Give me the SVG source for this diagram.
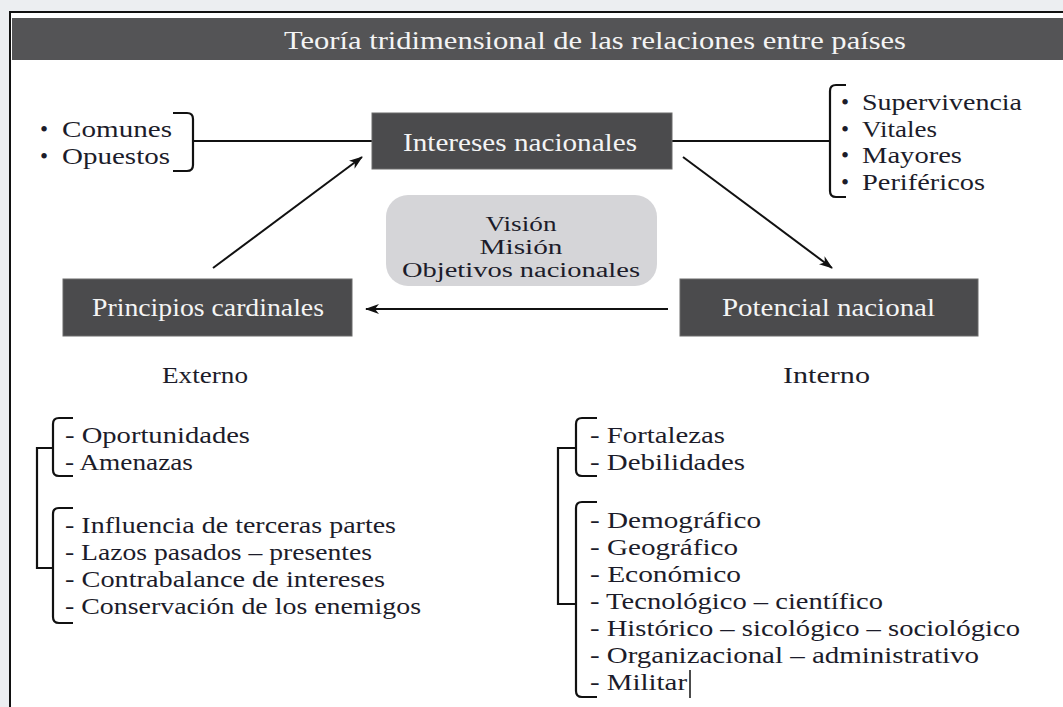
<svg xmlns="http://www.w3.org/2000/svg" width="1063" height="707" viewBox="0 0 1063 707">
<defs>
<style>
.t{font-family:"Liberation Serif","Times New Roman",serif;fill:#1c1c2a;font-size:23px}
.v{font-family:"Liberation Serif","Times New Roman",serif;fill:#1c1c2a;font-size:20px}
.w{font-family:"Liberation Serif","Times New Roman",serif;fill:#f4f4f4;font-size:25px}
.box{fill:#4b4b4d;stroke:#6a6a6a;stroke-width:1}
.ln{stroke:#111;stroke-width:2;fill:none}
.br{stroke:#111;stroke-width:2.2;fill:none}
</style>
<marker id="ah" viewBox="0 0 14 10" refX="13" refY="5" markerWidth="14" markerHeight="10" orient="auto" markerUnits="userSpaceOnUse">
<path d="M0,0 L14,5 L0,10 L4,5 z" fill="#111"/>
</marker>
</defs>
<rect x="0" y="0" width="1063" height="707" fill="#eceef1"/>
<rect x="10" y="12" width="1053" height="695" fill="#ffffff"/>
<path d="M10,707 V12 H1063" fill="none" stroke="#111" stroke-width="2"/>

<g id="title">
<rect x="12" y="18" width="1051" height="42" fill="#545456"/>
<text class="w" x="284" y="49" font-size="28" textLength="622" lengthAdjust="spacingAndGlyphs">Teoría tridimensional de las relaciones entre países</text>
</g>

<g id="connectors">
<path class="br" d="M173,113 H187 Q193,113 193,119 V165 Q193,171 187,171 H173"/>
<line class="ln" x1="193" y1="141" x2="372" y2="141"/>
<line class="ln" x1="672" y1="141" x2="830" y2="141"/>
<path class="br" d="M846,85 H836 Q830,85 830,91 V191 Q830,197 836,197 H846"/>
<line class="ln" x1="213" y1="268" x2="362" y2="157" marker-end="url(#ah)"/>
<line class="ln" x1="683" y1="157" x2="832" y2="268" marker-end="url(#ah)"/>
<line class="ln" x1="668" y1="309" x2="366" y2="309" marker-end="url(#ah)"/>
<path class="br" d="M73,418 H59 Q53,418 53,424 V470 Q53,476 59,476 H73"/>
<path class="br" d="M73,508 H59 Q53,508 53,514 V617 Q53,623 59,623 H73"/>
<path class="br" d="M53,448 H37 V568 H53"/>
<path class="br" d="M597,418 H582 Q576,418 576,424 V470 Q576,476 582,476 H597"/>
<path class="br" d="M597,502 H582 Q576,502 576,508 V691 Q576,697 582,697 H597"/>
<path class="br" d="M576,448 H558 V604 H576"/>
</g>

<g id="intereses">
<rect class="box" x="372" y="113" width="300" height="56"/>
<text class="w" x="403" y="151" textLength="234" lengthAdjust="spacingAndGlyphs">Intereses nacionales</text>
</g>

<g id="principios">
<rect class="box" x="63" y="279" width="289" height="57"/>
<text class="w" x="92" y="316" textLength="232" lengthAdjust="spacingAndGlyphs">Principios cardinales</text>
</g>

<g id="potencial">
<rect class="box" x="680" y="279" width="298" height="57"/>
<text class="w" x="722" y="316" textLength="213" lengthAdjust="spacingAndGlyphs">Potencial nacional</text>
</g>

<g id="vision">
<rect x="386" y="195" width="271" height="91" rx="22" fill="#d5d5d8"/>
<text class="v" x="521" y="231" text-anchor="middle" textLength="71" lengthAdjust="spacingAndGlyphs">Visión</text>
<text class="v" x="521" y="254" text-anchor="middle" textLength="83" lengthAdjust="spacingAndGlyphs">Misión</text>
<text class="v" x="521" y="277" text-anchor="middle" textLength="238" lengthAdjust="spacingAndGlyphs">Objetivos nacionales</text>
</g>

<g id="tipos-intereses-izq">
<text class="t" x="40" y="137">•</text>
<text class="t" x="62" y="137" textLength="110" lengthAdjust="spacingAndGlyphs">Comunes</text>
<text class="t" x="40" y="164">•</text>
<text class="t" x="62" y="164" textLength="108" lengthAdjust="spacingAndGlyphs">Opuestos</text>
</g>

<g id="tipos-intereses-der">
<text class="t" x="841" y="110">•</text>
<text class="t" x="862" y="110" textLength="160" lengthAdjust="spacingAndGlyphs">Supervivencia</text>
<text class="t" x="841" y="136.5">•</text>
<text class="t" x="862" y="136.5" textLength="75" lengthAdjust="spacingAndGlyphs">Vitales</text>
<text class="t" x="841" y="163">•</text>
<text class="t" x="862" y="163" textLength="100" lengthAdjust="spacingAndGlyphs">Mayores</text>
<text class="t" x="841" y="189.5">•</text>
<text class="t" x="862" y="189.5" textLength="123" lengthAdjust="spacingAndGlyphs">Periféricos</text>
</g>

<g id="externo">
<text class="t" x="162" y="383" textLength="86" lengthAdjust="spacingAndGlyphs">Externo</text>
<text class="t" x="65" y="443" textLength="185" lengthAdjust="spacingAndGlyphs">- Oportunidades</text>
<text class="t" x="65" y="470" textLength="128" lengthAdjust="spacingAndGlyphs">- Amenazas</text>
<text class="t" x="65" y="533" textLength="331" lengthAdjust="spacingAndGlyphs">- Influencia de terceras partes</text>
<text class="t" x="65" y="560" textLength="307" lengthAdjust="spacingAndGlyphs">- Lazos pasados – presentes</text>
<text class="t" x="65" y="587" textLength="320" lengthAdjust="spacingAndGlyphs">- Contrabalance de intereses</text>
<text class="t" x="65" y="614" textLength="356" lengthAdjust="spacingAndGlyphs">- Conservación de los enemigos</text>
</g>

<g id="interno">
<text class="t" x="783" y="383" textLength="87" lengthAdjust="spacingAndGlyphs">Interno</text>
<text class="t" x="590" y="443" textLength="135" lengthAdjust="spacingAndGlyphs">- Fortalezas</text>
<text class="t" x="590" y="470" textLength="155" lengthAdjust="spacingAndGlyphs">- Debilidades</text>
<text class="t" x="590" y="528" textLength="171" lengthAdjust="spacingAndGlyphs">- Demográfico</text>
<text class="t" x="590" y="555" textLength="148" lengthAdjust="spacingAndGlyphs">- Geográfico</text>
<text class="t" x="590" y="582" textLength="151" lengthAdjust="spacingAndGlyphs">- Económico</text>
<text class="t" x="590" y="609" textLength="293" lengthAdjust="spacingAndGlyphs">- Tecnológico – científico</text>
<text class="t" x="590" y="636" textLength="430" lengthAdjust="spacingAndGlyphs">- Histórico – sicológico – sociológico</text>
<text class="t" x="590" y="663" textLength="389" lengthAdjust="spacingAndGlyphs">- Organizacional – administrativo</text>
<text class="t" x="590" y="690" textLength="97" lengthAdjust="spacingAndGlyphs">- Militar</text>
<line x1="690" y1="670" x2="690" y2="698" stroke="#111" stroke-width="1.5"/>
</g>
</svg>
